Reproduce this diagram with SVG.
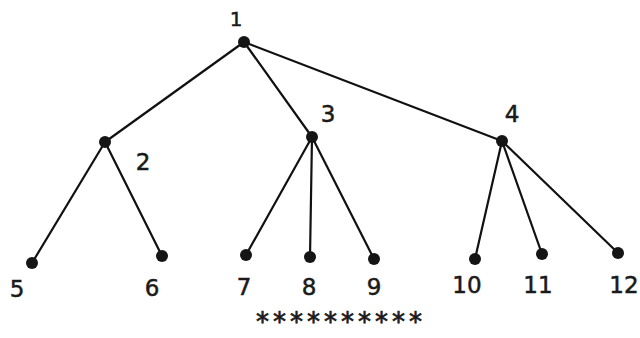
<svg xmlns="http://www.w3.org/2000/svg" width="640" height="338" viewBox="0 0 640 338">
<style>
.e{stroke:#111;stroke-width:2.2;fill:none;stroke-linecap:round}
.n{fill:#151515}
.t{font-family:"DejaVu Sans","Verdana",sans-serif;font-size:23px;fill:#1a1a1a;stroke:#1a1a1a;stroke-width:0.5;text-anchor:middle}
.s{font-family:"DejaVu Sans","Verdana",sans-serif;font-size:26px;fill:#1a1a1a;stroke:#1a1a1a;stroke-width:0.7}
</style>
<rect width="640" height="338" fill="#fff"/>
<g id="edges">
<line class="e" x1="244" y1="42" x2="105" y2="142"/>
<line class="e" x1="244" y1="42" x2="312" y2="137"/>
<line class="e" x1="244" y1="42" x2="502" y2="141"/>
<line class="e" x1="105" y1="142" x2="32" y2="263"/>
<line class="e" x1="105" y1="142" x2="162" y2="256"/>
<line class="e" x1="312" y1="137" x2="246" y2="255"/>
<line class="e" x1="312" y1="137" x2="310" y2="257"/>
<line class="e" x1="312" y1="137" x2="374" y2="259"/>
<line class="e" x1="502" y1="141" x2="475" y2="259"/>
<line class="e" x1="502" y1="141" x2="542" y2="254"/>
<line class="e" x1="502" y1="141" x2="618" y2="253"/>
</g>
<g id="node1"><circle class="n" cx="244" cy="42" r="6"/><text class="t" x="236" y="26" style="font-size:20px">1</text></g>
<g id="node2"><circle class="n" cx="105" cy="142" r="6"/><text class="t" x="143" y="170">2</text></g>
<g id="node3"><circle class="n" cx="312" cy="137" r="6"/><text class="t" x="328" y="122">3</text></g>
<g id="node4"><circle class="n" cx="502" cy="141" r="6"/><text class="t" x="512" y="122">4</text></g>
<g id="node5"><circle class="n" cx="32" cy="263" r="6"/><text class="t" x="17" y="297">5</text></g>
<g id="node6"><circle class="n" cx="162" cy="256" r="6"/><text class="t" x="152" y="296">6</text></g>
<g id="node7"><circle class="n" cx="246" cy="255" r="6"/><text class="t" x="244" y="295">7</text></g>
<g id="node8"><circle class="n" cx="310" cy="257" r="6"/><text class="t" x="309" y="295">8</text></g>
<g id="node9"><circle class="n" cx="374" cy="259" r="6"/><text class="t" x="374" y="295">9</text></g>
<g id="node10"><circle class="n" cx="475" cy="259" r="6"/><text class="t" x="467" y="293">10</text></g>
<g id="node11"><circle class="n" cx="542" cy="254" r="6"/><text class="t" x="538" y="293">11</text></g>
<g id="node12"><circle class="n" cx="618" cy="253" r="6"/><text class="t" x="624" y="293">12</text></g>
<text class="s" x="256" y="331" textLength="166" lengthAdjust="spacing">**********</text>
</svg>
